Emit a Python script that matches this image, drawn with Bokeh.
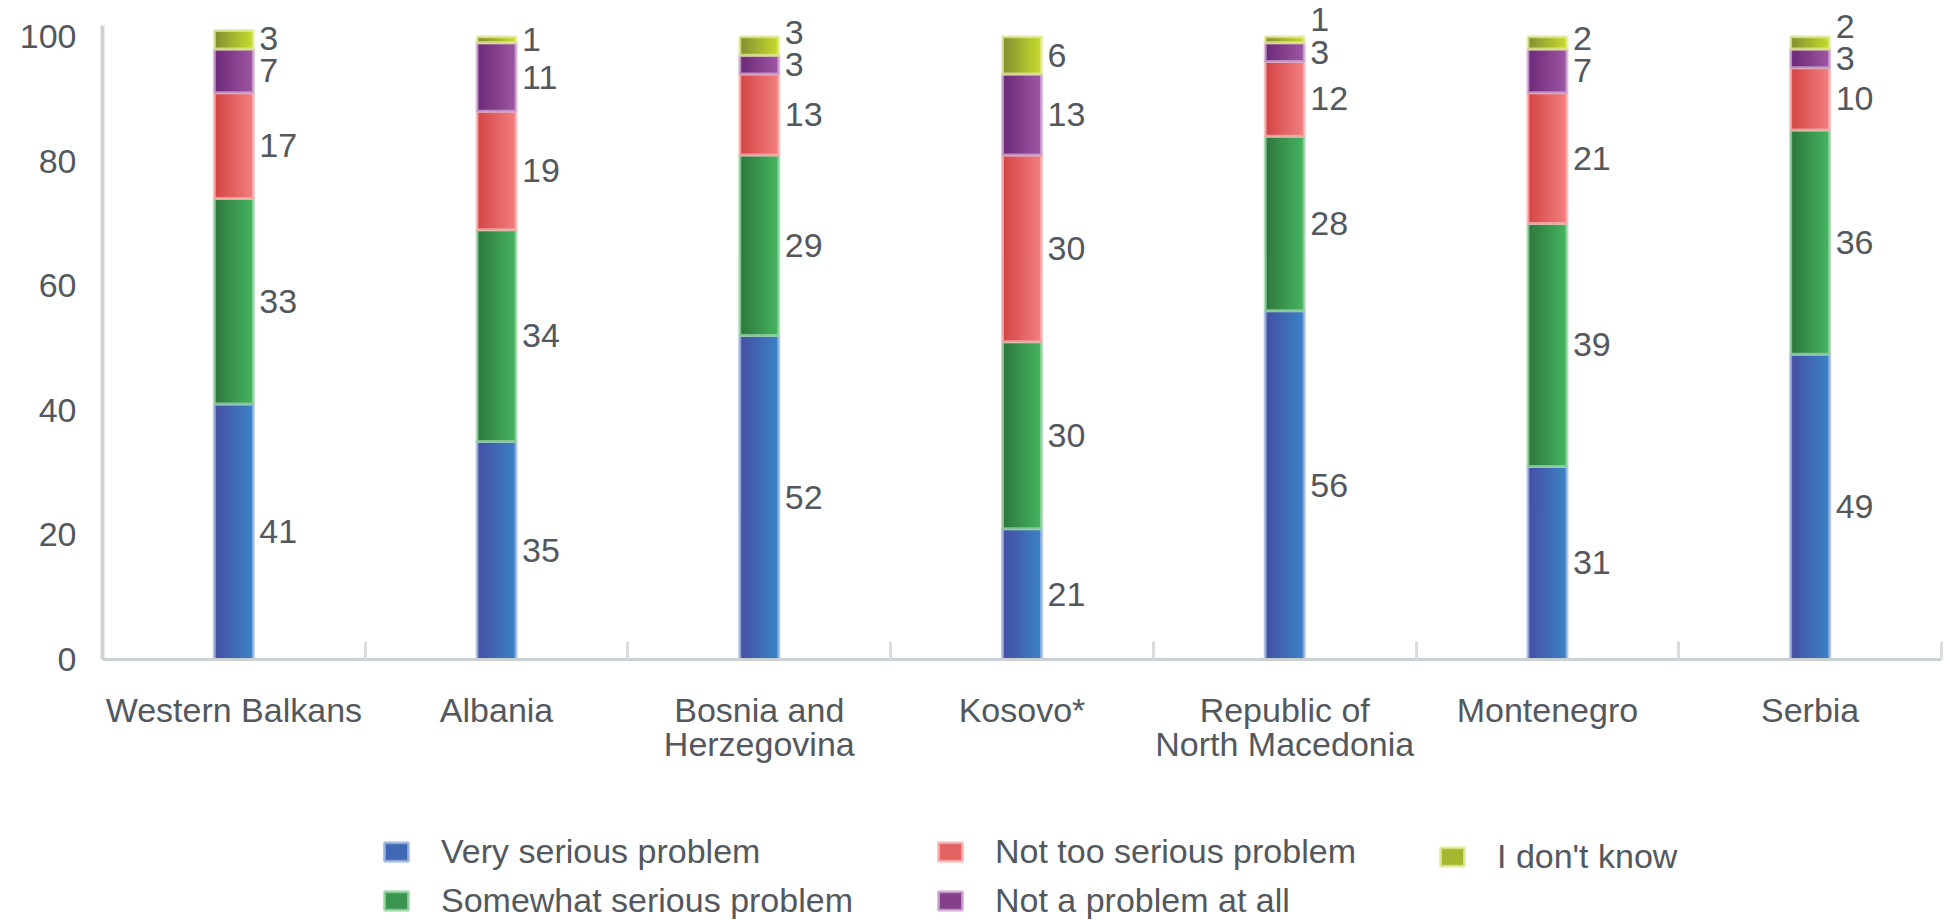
import numpy as np
from bokeh.plotting import figure
from bokeh.layouts import column
from bokeh.models import Range1d, FixedTicker, Legend, LegendItem
from bokeh.core.properties import value
from bokeh.embed import file_html
from bokeh.resources import INLINE

# Survey shares (%) per country, one list per answer
countries = ["Western Balkans", "Albania", "Bosnia and\nHerzegovina", "Kosovo*",
             "Republic of\nNorth Macedonia", "Montenegro", "Serbia"]
very_serious = [41, 35, 52, 21, 56, 31, 49]
somewhat_serious = [33, 34, 29, 30, 28, 39, 36]
not_too_serious = [17, 19, 13, 30, 12, 21, 10]
not_a_problem = [7, 11, 3, 13, 3, 7, 3]
dont_know = [3, 1, 3, 6, 1, 2, 2]
y_ticks = [0, 20, 40, 60, 80, 100]

series_names = ["Very serious problem", "Somewhat serious problem",
                "Not too serious problem", "Not a problem at all", "I don't know"]
series_values = [very_serious, somewhat_serious, not_too_serious, not_a_problem, dont_know]

# (left shade, right shade, edge tint) for each answer
palette = [
    ("#4650a5", "#3a82c5", "#9cb6de"),
    ("#2e793e", "#45b35f", "#98d4a6"),
    ("#d54646", "#f27d7d", "#f8b2b2"),
    ("#6d2b79", "#9d55a1", "#cfa8d2"),
    ("#85912f", "#c6da2e", "#e4eb98"),
]

FONT = "Liberation Sans"
TEXT = "#53585e"
BAR_W = 0.1485
N_SLICES = 14


def mix(c1, c2, t):
    a = [int(c1[i:i + 2], 16) for i in (1, 3, 5)]
    b = [int(c2[i:i + 2], 16) for i in (1, 3, 5)]
    return "#%02x%02x%02x" % tuple(round(a[k] + (b[k] - a[k]) * t) for k in range(3))


p = figure(width=1944, height=787, output_backend="svg", toolbar_location=None,
           x_range=Range1d(-0.5, len(countries) - 0.5), y_range=Range1d(0, 105.8),
           min_border_left=102, min_border_right=3, min_border_top=0, min_border_bottom=128)
p.outline_line_color = None
p.grid.visible = False

xs = np.arange(len(countries), dtype=float)
bottom = np.zeros(len(countries))
label_x, label_y, label_txt = [], [], []
slice_w = BAR_W / N_SLICES

for name, vals, (c_left, c_right, c_edge) in zip(series_names, series_values, palette):
    vals = np.asarray(vals, dtype=float)
    top = bottom + vals
    # horizontal shading: narrow strips from the left shade to the right shade
    for i in range(N_SLICES):
        col = mix(c_left, c_right, i / (N_SLICES - 1))
        off = -BAR_W / 2 + slice_w * (i + 0.5)
        w = slice_w * (1.35 if i < N_SLICES - 1 else 1.0)
        p.vbar(x=xs + off + (w - slice_w) / 2, width=w, bottom=bottom, top=top,
               fill_color=col, line_color=None)
    p.vbar(x=xs, width=BAR_W, bottom=bottom, top=top, fill_color=None,
           line_color=c_edge, line_width=3, line_alpha=0.75)
    for k in range(len(countries)):
        label_x.append(xs[k])
        label_y.append(bottom[k] + vals[k] / 2)
        label_txt.append(str(int(vals[k])))
    bottom = top

# keep stacked value labels of thin segments from overlapping
MIN_SEP = 5.2
n_c = len(countries)
ly = np.array(label_y).reshape(len(series_names), n_c)
for k in range(n_c):
    for s in range(1, len(series_names)):
        if ly[s, k] < ly[s - 1, k] + MIN_SEP:
            ly[s, k] = ly[s - 1, k] + MIN_SEP
label_y = ly.ravel()

p.text(x=np.array(label_x) + BAR_W / 2, y=label_y, text=label_txt, x_offset=6,
       text_font=value(FONT), text_font_size="34px", text_color=TEXT,
       text_align="left", text_baseline="middle")

# axes
xa = p.xaxis[0]
xa.ticker = FixedTicker(ticks=list(xs), minor_ticks=list(np.arange(-0.5, n_c, 1.0)))
xa.major_label_overrides = {int(i): c for i, c in enumerate(countries)}
xa.major_tick_line_color = None
xa.minor_tick_in = 18
xa.minor_tick_out = 0
xa.minor_tick_line_width = 3
xa.minor_tick_line_color = "#d9dde0"
xa.axis_line_color = "#cbd0d4"
xa.axis_line_width = 3
xa.major_label_standoff = 25
xa.major_label_text_font = FONT
xa.major_label_text_font_size = "34px"
xa.major_label_text_color = TEXT
xa.major_label_text_line_height = 0.92

ya = p.yaxis[0]
ya.ticker = FixedTicker(ticks=y_ticks)
ya.bounds = (0, 101.8)
ya.major_tick_line_color = None
ya.minor_tick_line_color = None
ya.axis_line_color = "#cfd3d7"
ya.axis_line_width = 4
ya.major_label_standoff = 20
ya.major_label_text_font = FONT
ya.major_label_text_font_size = "34px"
ya.major_label_text_color = TEXT

# legend strip under the chart, three columns
leg = figure(width=1944, height=133, output_backend="svg", toolbar_location=None,
             x_range=Range1d(0, 1), y_range=Range1d(0, 1),
             x_axis_location=None, y_axis_location=None,
             min_border_left=0, min_border_right=0, min_border_top=0, min_border_bottom=0)
leg.outline_line_color = None
leg.grid.visible = False
swatches = []
for (c_left, c_right, c_edge) in palette:
    # hidden bar: only its legend swatch is drawn
    r = leg.vbar(x=[0.5], width=0.1, bottom=[0.2], top=[0.8], fill_color=mix(c_left, c_right, 0.5),
                 line_color=c_edge, line_width=3, line_alpha=0.75)
    r.visible = False
    swatches.append(r)

columns = [([0, 1], (279, 0)), ([2, 3], (833, 0)), ([4], (1335, 44))]
for idx, loc in columns:
    lg = Legend(items=[LegendItem(label=series_names[i], renderers=[swatches[i]]) for i in idx],
                location=loc, orientation="vertical", glyph_width=30, glyph_height=23,
                label_standoff=30, spacing=10, padding=0, margin=0,
                border_line_color=None, background_fill_alpha=0,
                inactive_fill_alpha=0, click_policy="none",
                label_text_font=FONT, label_text_font_size="34px", label_text_color=TEXT)
    leg.add_layout(lg, "center")

open("out.html", "w").write(file_html(column(p, leg, spacing=0), INLINE))
